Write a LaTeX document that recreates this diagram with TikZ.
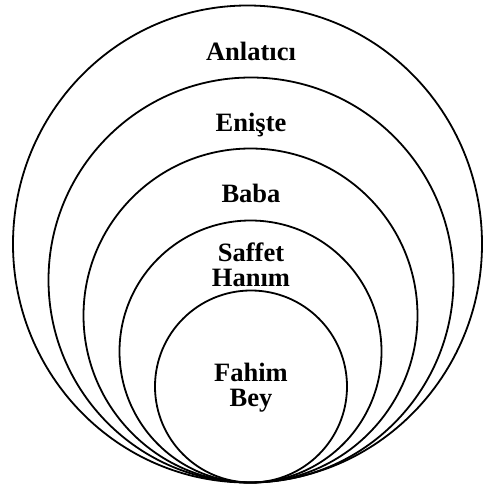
\documentclass[tikz,border=0pt]{standalone}
\usepackage{fontspec}
\setmainfont{Liberation Serif}
\usetikzlibrary{positioning}

\begin{document}
\begin{tikzpicture}[x=1pt, y=-1pt,
  ring/.style={draw=black, line width=1.8pt},
  lbl/.style={font=\fontsize{26.5}{25}\selectfont\bfseries, align=center, anchor=base, inner sep=0pt}
]
\useasboundingbox (0,0) rectangle (483,487);

% ===== Nested rings, all touching at the bottom =====
\draw[ring] (247.5,244) ellipse [x radius=234.5, y radius=238.5];
\draw[ring] (251,280) circle [radius=202.5];
\draw[ring] (250.5,315.5) circle [radius=167];
\draw[ring] (250.5,351.5) circle [radius=131];
\draw[ring] (251,386.5) circle [radius=96];

% ===== Labels =====
\node[lbl] (anlatici) at (251,61) {Anlatıcı};
\node[lbl] (eniste) at (251,131.7) {Enişte};
\node[lbl] (baba) at (251,202.7) {Baba};
\node[lbl] (saffet) at (251,286.7) {Saffet\\Hanım};
\node[lbl] (fahim) at (251,406) {Fahim\\Bey};

\end{tikzpicture}
\end{document}
